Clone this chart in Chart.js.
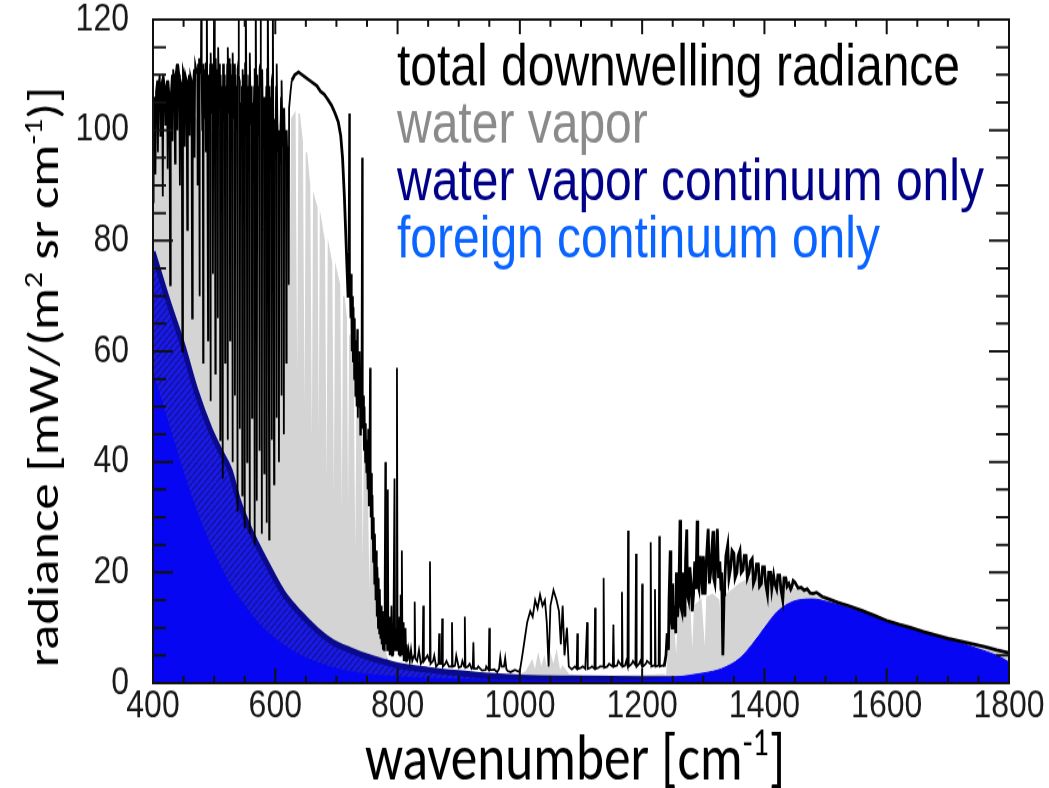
<!DOCTYPE html>
<html>
<head>
<meta charset="utf-8">
<script src="https://cdn.jsdelivr.net/npm/chart.js@4.4.1/dist/chart.umd.min.js"></script>
<style>
  html, body { margin: 0; padding: 0; background: #fff; }
  #outer { width: 1049px; height: 788px; overflow: hidden; }
  /* the reference is stretched vertically, so draw at 1049x646 and stretch */
  #wrap { width: 1049px; height: 646px; transform: scaleY(1.2198); transform-origin: 0 0; }
</style>
</head>
<body>
<div id="outer"><div id="wrap"><canvas id="chart" width="1049" height="646"></canvas></div></div>
<script>
// wavenumber [cm-1], radiance [mW/(m2 sr cm-1)]
const totalRadiance = [
  [400,87],[401,104],[403,106],[404,92],[405,107],[407,109],[408,96],[409,108],[411,110],[412,99],[413,108],[415,109],[416,88],[417,110],[419,108],[420,101],[421,107],[423,109],[424,93],[425,109],[427,106],[428,72],[429,106],[431,110],[432,98],[433,111],[435,109],[436,94],[437,110],[439,112],[440,100],[441,112],[443,110],[444,90],[445,109],[447,108],[448,60],[449,111],[451,110],[452,97],[453,110],[455,109],[456,82],[457,108],[459,110],[460,99],[461,110],[463,109],[464,66],[465,107],[467,111],[468,95],[469,112],
  [472.4,110],[473,90],[473.6,112],[474.5,101],[475.4,113],[476,70],[476.6,110],[478.4,112],[479,125],[479.6,110],[480.5,100],[481.4,110],[482,58],[482.6,112],[484,102],[485.4,111],[486,96],[486.6,112],[487.4,112],[488,125],[488.6,110],[489.4,110],[490,62],[490.6,110],[492,100],[493.4,112],[494,51],[494.6,114],[496,103],[497.4,112],[498,74],[498.6,110],[499.4,111],[500,125],[500.6,112],[501.4,112],[502,56],[502.6,113],[504,101],[505.4,111],[506,66],[506.6,115],[508,104],[509.4,112],[510,44],[510.6,110],[512,99],[513.4,108],[514,37],[514.6,112],[516,102],[517.4,110],[518,58],[518.6,108],[520,100],[521.4,112],[522,44],[522.6,115],[524,103],[525.4,113],[526,62],[526.6,112],[528,101],[529.4,110],[530,40],[530.6,114],[532,102],[533.4,112],[534,52],[534.6,110],[536,100],[537.4,108],[538,31],[538.6,111],[539.4,112],[540,125],[540.6,110],
  [541.4,109],[542,46],[542.6,105],[544,97],[545.4,108],[546,34],[546.6,111],[548,100],[549.4,110],[550,28],[550.6,112],[551.4,112],[552,125],[552.6,110],[553.4,109],[554,40],[554.6,108],[556,98],[557.4,110],[558,27],[558.6,114],[560,101],[561.4,108],[562,48],[562.6,105],[564,97],[565.4,108],[566,25],[566.6,111],[567.4,111],[568,125],[568.6,110],[569.4,109],[570,33],[570.6,110],[572,99],[573.4,108],[574,42],[574.6,111],[575.4,112],[576,125],[576.6,108],[577.4,108],[578,27],[578.6,111],[580,98],[581.4,106],[582,38],[582.6,106],[584,97],[585.4,108],[586,29],[586.6,111],[587.4,112],[588,125],[588.6,108],[589.4,108],[590,26],[590.6,108],[592,97],[593.4,106],[594,44],[594.6,109],[595.4,110],[596,125],[596.6,104],[597.4,104],[598,36],[598.6,102],[600,95],[601.4,108],[602,48],[602.6,112],[604,96],[605.4,100],[606,40],[606.6,99],[608,94],[609.4,106],[610,52],[610.6,109],[612,97],[613.4,104],[614,45],[614.6,104],[616,95],[617.4,100],[618,58],[618.6,100],[620,93],[621.4,97],[622,72],[622.6,104],[625,107],[627,109],
  [632,110],[638,110.5],[644,110],[650,109.5],[656,109],[662,108.5],[668,108],[674,107],[680,106.5],[686,105.5],[692,104.5],[698,103],[703,101.5],[707,99],[710,95],[713,88],[715,82],[717,76],[719,70],[720,78],[721,103],[722,72],[723,66],[724,74],[725,60],[726,70],[727,58],[728,68],[729,55],[730,66],[731,52],[732,62],[733,50],[734,64],[735,48],[736,58],[737,50],[738,60],[739,45],[740,55],[741,48],[742,95],[743,46],[744,52],[745,42],[746,50],[747,40],[748,47],[749,38],[750,44],[751,35],[752,46],[753,32],[754,40],[755,57],[756,30],[757,38],[758,26],[759,34],[760,22],[761,30],[762,18],[763,27],[764,15],[765,24],[766,12],[767,21],[768,10],[769,19],[770,9],[771,17],[772,8],[773,14],[774,7],[775,13],[776,6],[777,12],[778,6],[779,18],[780,40],[781,7],[782,15],[783,6],[784,35],[785,6],[786,12],[787,5],[788,10],[789,5],[790,14],[791,5],[792,9],[793,5],[795,37],[796,6],[797,10],[798,6],[799,57],[800,6],
  [801,9],[802,5],[803,12],[804,5],[805,16],[806,6],[807,24],[808,5],[809,11],[810,4],[811,8],[812,4],[813,10],[814,4],[815,7],[816,4],[818,6],[820,4],[822,6],[824,4],[827,5],[828,14.7],[829,4.5],[832,4],[835,6],[838,3.5],[841,4],[842,14],[843,4],[846,4.5],[849,5],[852,4],[853,22],[854,3.5],[858,4],[860,5],[863,3],[867,3.5],[868,9],[869,3.5],[872,3.5],[873,11.7],[874,3],[878,3.5],[880,4],[884,3],[888,3],[889,11],[890,3],[894,3.2],[896,5],[900,2.8],[904,3],[906,4],[909,3],[910,12],[911,2.8],[915,3],[918,3.5],[921,2.6],[923,2.8],[924,7.4],[925,2.6],[930,2.6],[932,3],[938,2.3],[944,2.4],[945,3],[949,2.4],[950,10],[951,2.4],[956,2.4],[958,2.5],[963,2],[966,2.6],[968,4.7],[970,3],[974,3],[976,4.5],[978,2.5],[980,2.2],[985,2],[992,2.4],[998,2.1],
  [1000,2.2],[1004,5],[1008,8],[1012,11],[1017,13],[1021,12],[1025,15],[1029,13.5],[1033,16],[1037,14],[1041,15],[1044,11],[1047,3],[1050,14],[1055,16.8],[1060,15],[1064,13],[1067,7],[1070,14],[1073,5],[1077,10],[1080,3],[1085,2.5],[1090,3],[1093,2.6],[1094,9],[1095,2.6],
  [1100,2.8],[1103,3],[1107,2.6],[1110,11],[1111,2.6],[1116,2.8],[1118,3],[1122,2.6],[1123,13.6],[1124,2.6],[1129,2.8],[1131,3],[1136,3],[1137,19],[1138,2.8],[1143,3],[1146,3.5],[1152,3],[1153,10.6],[1154,3],[1159,3.2],[1161,4],[1166,3.2],[1167,16.5],[1168,3],[1172,3.2],[1174,4],[1176,3.2],[1177,27.6],[1178,3],[1183,3.5],[1185,4],[1189,3.3],[1190,23.4],[1191,3],[1195,3.5],[1197,4],[1199,3.3],[1200,18],[1201,3],[1206,3.5],[1208,4],[1213,3.5],[1214,25.5],[1215,3],[1220,3.2],[1221,17],[1222,3],[1227,3.2],[1228,26.6],[1229,3],[1234,3.2],[1236,3],
  [1239,5],[1241,9],[1243,6],[1244,15],[1246,24],[1247,12],[1249,10],[1250,18],[1251,11],[1253,14],[1255,9],[1256,20],[1258,12],[1260,16],[1262,29.5],[1263,14],[1265,13],[1266,20],[1268,17],[1270,12],[1271,22],[1273,27.8],[1274,16],[1276,15],[1278,21],[1280,18],[1282,13],[1284,16],[1286,22],[1288,17],[1290,29.4],[1291,18],[1293,17],[1295,23],[1297,20],[1299,16],[1300,23],[1302,19],[1303,16],[1305,22],[1308,27.9],[1310,18],[1312,20],[1314,24],[1316,27.5],[1317,19],[1319,18],[1321,23],[1323,27.9],[1325,19],[1327,22],[1329,17],[1330,20],[1332,5],[1334,16],[1335,18],[1337,23],[1340,25],[1342,19],[1345,21],[1347,24],[1350,23.5],[1352,19],[1355,20],[1357,23],[1360,24],[1362,20],[1365,20.5],[1367,23],[1370,23],[1372,19],[1375,20],[1377,22],[1380,22.5],[1382,18],[1385,19],[1387,21.5],[1390,21.5],[1392,17.5],[1395,18],[1397,21],[1400,21],[1402,18],[1405,16],[1407,20],[1410,20],[1412,17],[1415,19.5],[1417,18],[1420,17],[1422,19.5],[1425,19.5],[1427,17],[1430,15],[1432,19],[1435,19],[1437,17.5],[1440,18],[1443,17],[1445,17.5],[1447,18.5],[1450,18.2],[1455,17.2],[1460,17.3],[1465,16.8],[1470,17],[1475,16.3],[1480,16.2],[1485,16.4],[1490,16],[1495,15.6],
  [1500,15.4],[1520,14.6],[1540,13.9],[1560,13.1],[1580,12.2],[1600,11.3],[1620,10.6],[1640,10],[1660,9.3],[1680,8.7],[1700,8.1],[1720,7.6],[1740,7.1],[1760,6.6],[1780,6],[1800,5.5]
];

const waterVapor = [
  [400,105],[410,103],[420,100],[430,104],[440,101],[450,103],[460,100],[470,102],[480,99],[490,101],[500,98],[510,100],[520,97],[530,100],[540,96],[550,99],[560,97],[570,100],[580,98],[590,101],[600,99],[610,102],[616,100],
  [620,100],[624,60],[627,102],[632,103],[636,30],[639,103],[644,98],[648,25],[651,96],[656,90],[660,20],[663,88],[668,86],[671,18],[674,84],[680,80],[684,14],[687,79],[692,76],[696,12],[699,75],[705,72],[709,10],[712,70],[716,66],[719,9],[722,63],[727,56],[731,8],[734,52],[740,47],[743,7],[746,42],[750,38],[754,6],[757,33],[762,27],[765,5],[768,20],[771,15],[776,9],[781,5],[786,3.5],
  [800,3],[850,2],[900,1.5],[950,1.2],[1000,1.5],[1010,2],[1020,4],[1025,2],[1030,5],[1035,2.5],[1040,4.5],[1045,2],[1050,5],[1055,3],[1060,5.5],[1065,2],[1070,3],[1080,1.5],[1100,1.2],[1150,1.2],[1200,1.3],[1236,1.5],
  [1240,1],[1245,8],[1250,12],[1256,3],[1260,13],[1270,14],[1278,13.5],[1282,3],[1286,14],[1296,15],[1303,4],[1306,15.5],[1315,16],[1325,15],[1332,6],[1338,16],[1350,17],[1360,18],[1380,19],[1400,18.5],[1420,18],[1440,17.2],[1460,16.7],[1480,15.8],[1500,15],[1550,13.2],[1600,11.2],[1650,9.5],[1700,8],[1750,6.7],[1800,5.2]
];

const waterVaporContinuum = [
  [400,78],[425,69],[449,61],[470,53],[493,46],[510,42],[526,38.5],[540,33],[559,27.7],[586,21.7],[613,16.3],[640,12.7],[668,9.6],[694,7.4],[722,6],[750,4.8],[780,3.8],[800,3.2],[850,2.4],[900,1.8],[950,1.3],[1000,1],[1100,0.8],[1200,0.7],[1300,0.7],[1400,0.6],[1500,0.6],[1600,0.5],[1700,0.5],[1800,0.5]
];

const foreignContinuum = [
  [400,56],[425,47],[450,38],[475,30],[500,23.5],[525,18],[550,14],[575,10.5],[600,8],[625,6],[650,4.5],[700,2.6],[750,1.6],[800,1.1],[900,0.7],[1000,0.5],[1100,0.4],[1200,0.5],[1250,1],[1300,1.8],[1330,2.6],[1360,4.5],[1380,7],[1400,10],[1420,12.8],[1440,14.4],[1460,15.1],[1480,15.2],[1500,14.8],[1550,13.2],[1600,11.3],[1650,9.5],[1700,8],[1750,6.2],[1780,5],[1800,3.8]
];

const wavenumberTicks = [400, 600, 800, 1000, 1200, 1400, 1600, 1800];
const radianceTicks = [0, 20, 40, 60, 80, 100, 120];

const legendEntries = [
  { label: 'total downwelling radiance', color: '#000000' },
  { label: 'water vapor', color: '#8a8a8a' },
  { label: 'water vapor continuum only', color: '#000088' },
  { label: 'foreign continuum only', color: '#0a64ff' }
];

const toXY = arr => arr.map(p => ({ x: p[0], y: p[1] }));

function hatchPattern() {
  const c = document.createElement('canvas');
  c.width = 6;
  c.height = 6;
  const g = c.getContext('2d');
  g.fillStyle = '#1a1ae4';
  g.fillRect(0, 0, 6, 6);
  g.strokeStyle = '#10108e';
  g.lineWidth = 1.1;
  g.beginPath();
  g.moveTo(0, 6);
  g.lineTo(6, 0);
  g.stroke();
  return g.createPattern(c, 'repeat');
}

// draws text pieces, some of them raised as superscripts
function drawRich(ctx, parts, x, y, size, family) {
  const widths = parts.map(p => {
    ctx.font = `${p.sup ? size * 0.6 : size}px ${family}`;
    return ctx.measureText(p.t).width;
  });
  const total = widths.reduce((a, b) => a + b, 0);
  let cx = x - total / 2;
  parts.forEach((p, i) => {
    ctx.font = `${p.sup ? size * 0.6 : size}px ${family}`;
    ctx.fillText(p.t, cx, p.sup ? y - size * 0.38 : y);
    cx += widths[i];
  });
}

function fitSize(ctx, parts, family, target) {
  let w = 0;
  parts.forEach(p => {
    ctx.font = `${p.sup ? 60 : 100}px ${family}`;
    w += ctx.measureText(p.t).width;
  });
  return 100 * target / w;
}

const frameTicks = {
  id: 'frameTicks',
  afterDatasetsDraw(chart) {
    const { ctx, chartArea: a, scales: { x, y } } = chart;
    ctx.save();
    ctx.strokeStyle = '#111';
    ctx.lineWidth = 2;
    ctx.beginPath();
    for (let v = 400; v <= 1800; v += 50) {
      const px = x.getPixelForValue(v);
      const len = v % 200 === 0 ? 12 : 6;
      ctx.moveTo(px, a.bottom);
      ctx.lineTo(px, a.bottom - len);
      ctx.moveTo(px, a.top);
      ctx.lineTo(px, a.top + len);
    }
    for (let v = 0; v <= 120; v += 5) {
      const py = y.getPixelForValue(v);
      const len = v % 20 === 0 ? 20 : 13;
      ctx.moveTo(a.left, py);
      ctx.lineTo(a.left + len, py);
      ctx.moveTo(a.right, py);
      ctx.lineTo(a.right - len, py);
    }
    ctx.stroke();
    ctx.strokeRect(a.left, a.top, a.right - a.left, a.bottom - a.top);
    ctx.restore();
  }
};

const labelsPlugin = {
  id: 'labelsPlugin',
  afterDraw(chart) {
    const ctx = chart.ctx;
    ctx.save();
    ctx.textBaseline = 'alphabetic';
    ctx.textAlign = 'left';

    // legend text
    legendEntries.forEach((e, i) => {
      ctx.font = '48px "Liberation Sans", Arial, sans-serif';
      ctx.fillStyle = e.color;
      ctx.fillText(e.label, 397, 70 + i * 47);
    });

    const family = 'Carlito, Lato, "Open Sans", sans-serif';
    ctx.fillStyle = '#000';

    // x axis title
    const xParts = [{ t: 'wavenumber [cm' }, { t: '-1', sup: true }, { t: ']' }];
    const xs = fitSize(ctx, xParts, family, 420);
    drawRich(ctx, xParts, 575, 639, xs, family);

    // y axis title
    const yParts = [{ t: 'radiance [mW/(m' }, { t: '2', sup: true }, { t: ' sr cm' }, { t: '-1', sup: true }, { t: ')]' }];
    const ys = fitSize(ctx, yParts, family, 476);
    ctx.translate(58, 309);
    ctx.rotate(-Math.PI / 2);
    drawRich(ctx, yParts, 0, 0, ys, family);
    ctx.restore();
  }
};

const tickFont = { family: '"Liberation Sans", Arial, sans-serif', size: 32, lineHeight: 1 };

new Chart(document.getElementById('chart'), {
  type: 'line',
  data: {
    datasets: [
      {
        label: 'total downwelling radiance',
        data: toXY(totalRadiance),
        borderColor: '#000',
        borderWidth: 1.8,
        // smooth parts of the spectrum are drawn a little heavier
        segment: { borderWidth: c => (c.p0.parsed.x >= 627 && c.p0.parsed.x < 720) || c.p0.parsed.x >= 1236 ? 2.8 : 1.8 },
        pointRadius: 0,
        fill: false,
        tension: 0,
        clip: 0,
        order: 0
      },
      {
        label: 'foreign continuum only',
        data: toXY(foreignContinuum),
        borderColor: '#0606f2',
        backgroundColor: '#0606f2',
        borderWidth: 1,
        pointRadius: 0,
        fill: 'origin',
        cubicInterpolationMode: 'monotone',
        clip: 0,
        order: 1
      },
      {
        label: 'water vapor continuum only',
        data: toXY(waterVaporContinuum),
        borderColor: '#0a0a8c',
        backgroundColor: hatchPattern(),
        borderWidth: 5,
        pointRadius: 0,
        fill: 'origin',
        cubicInterpolationMode: 'monotone',
        clip: 0,
        order: 2
      },
      {
        label: 'water vapor',
        data: toXY(waterVapor),
        borderColor: '#d4d4d4',
        backgroundColor: '#d4d4d4',
        borderWidth: 1.5,
        pointRadius: 0,
        fill: 'origin',
        tension: 0,
        clip: 0,
        order: 3
      }
    ]
  },
  options: {
    responsive: false,
    animation: false,
    events: [],
    layout: { padding: { left: 76, right: 40, top: 16, bottom: 52 } },
    plugins: {
      legend: { display: false },
      tooltip: { enabled: false }
    },
    scales: {
      x: {
        type: 'linear',
        min: 400,
        max: 1800,
        afterBuildTicks: s => { s.ticks = wavenumberTicks.map(v => ({ value: v })); },
        afterFit: s => { s.height = 34; s.paddingLeft = 0; s.paddingRight = 0; },
        grid: { display: false, drawTicks: false },
        border: { display: false },
        ticks: { font: tickFont, color: '#1a1a1a', padding: 3, maxRotation: 0, autoSkip: false, callback: v => String(v) }
      },
      y: {
        type: 'linear',
        min: 0,
        max: 120,
        afterBuildTicks: s => { s.ticks = radianceTicks.map(v => ({ value: v })); },
        afterFit: s => { s.width = 77; s.paddingTop = 0; s.paddingBottom = 0; },
        grid: { display: false, drawTicks: false },
        border: { display: false },
        ticks: { font: tickFont, color: '#1a1a1a', padding: 24, autoSkip: false, callback: v => String(v) }
      }
    }
  },
  plugins: [frameTicks, labelsPlugin]
});
</script>
</body>
</html>
